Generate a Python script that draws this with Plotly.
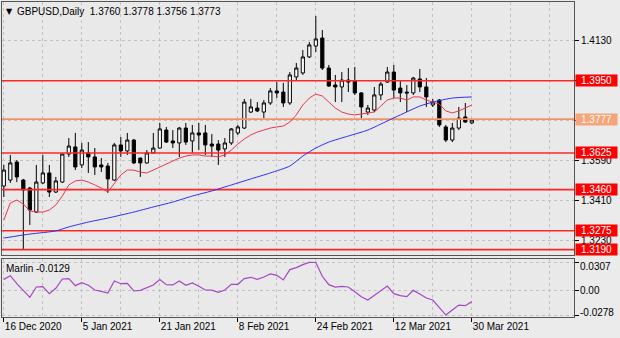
import plotly.graph_objects as go

# ---- GBPUSD daily candles (bar index 0 = 16 Dec 2020) ----
open_ = [1.3476, 1.3503, 1.3584, 1.3503, 1.3467, 1.3359, 1.3490, 1.3535, 1.3449, 1.3494,
         1.3620, 1.3652, 1.3571, 1.3625, 1.3607, 1.3571, 1.3566, 1.3503, 1.3661, 1.3634,
         1.3683, 1.3602, 1.3580, 1.3625, 1.3647, 1.3728, 1.3679, 1.3670, 1.3737, 1.3679,
         1.3715, 1.3715, 1.3665, 1.3665, 1.3643, 1.3670, 1.3715, 1.3737, 1.3809, 1.3827,
         1.3809, 1.3850, 1.3904, 1.3899, 1.3850, 1.3967, 1.3985, 1.4057, 1.4106, 1.4142,
         1.4007, 1.3931, 1.3922, 1.3953, 1.3949, 1.3895, 1.3809, 1.3818, 1.3886, 1.3944,
         1.3989, 1.3917, 1.3899, 1.3895, 1.3958, 1.3922, 1.3841, 1.3863, 1.3742, 1.3683,
         1.3737, 1.3787, 1.3760]
high = [1.3571, 1.3616, 1.3593, 1.3508, 1.3472, 1.3571, 1.3616, 1.3571, 1.3517, 1.3625,
        1.3692, 1.3715, 1.3670, 1.3674, 1.3647, 1.3602, 1.3580, 1.3670, 1.3697, 1.3715,
        1.3688, 1.3604, 1.3638, 1.3715, 1.3760, 1.3742, 1.3728, 1.3742, 1.3760, 1.3751,
        1.3760, 1.3751, 1.3710, 1.3683, 1.3692, 1.3737, 1.3751, 1.3868, 1.3868, 1.3854,
        1.3863, 1.3917, 1.3944, 1.3940, 1.3989, 1.4030, 1.4088, 1.4124, 1.4241, 1.4178,
        1.4021, 1.3976, 1.3989, 1.4007, 1.4012, 1.3899, 1.3841, 1.3922, 1.3944, 1.4012,
        1.4021, 1.3953, 1.3931, 1.3967, 1.4003, 1.3962, 1.3868, 1.3868, 1.3751, 1.3760,
        1.3832, 1.3850, 1.3778]
low = [1.3427, 1.3490, 1.3494, 1.3188, 1.3301, 1.3355, 1.3485, 1.3427, 1.3445, 1.3490,
       1.3607, 1.3548, 1.3557, 1.3535, 1.3526, 1.3539, 1.3445, 1.3499, 1.3607, 1.3616,
       1.3575, 1.3517, 1.3577, 1.3623, 1.3645, 1.3670, 1.3647, 1.3607, 1.3661, 1.3625,
       1.3638, 1.3616, 1.3607, 1.3571, 1.3607, 1.3661, 1.3706, 1.3733, 1.3805, 1.3809,
       1.3782, 1.3841, 1.3872, 1.3832, 1.3841, 1.3953, 1.3976, 1.4052, 1.4079, 1.3998,
       1.3922, 1.3854, 1.3854, 1.3899, 1.3886, 1.3782, 1.3796, 1.3809, 1.3863, 1.3940,
       1.3872, 1.3854, 1.3809, 1.3886, 1.3899, 1.3832, 1.3832, 1.3742, 1.3674, 1.3674,
       1.3728, 1.3760, 1.3756]
close = [1.3548, 1.3580, 1.3517, 1.3458, 1.3368, 1.3494, 1.3535, 1.3449, 1.3499, 1.3620,
         1.3656, 1.3562, 1.3638, 1.3607, 1.3562, 1.3562, 1.3508, 1.3661, 1.3634, 1.3683,
         1.3580, 1.3580, 1.3625, 1.3647, 1.3733, 1.3674, 1.3670, 1.3737, 1.3674, 1.3715,
         1.3706, 1.3661, 1.3656, 1.3638, 1.3670, 1.3733, 1.3742, 1.3854, 1.3832, 1.3814,
         1.3850, 1.3904, 1.3895, 1.3850, 1.3976, 1.4007, 1.4057, 1.4111, 1.4138, 1.4007,
         1.3926, 1.3922, 1.3953, 1.3944, 1.3895, 1.3832, 1.3827, 1.3886, 1.3935, 1.3989,
         1.3908, 1.3895, 1.3895, 1.3962, 1.3922, 1.3877, 1.3854, 1.3751, 1.3683, 1.3737,
         1.3782, 1.3764, 1.3773]

# fast moving average (red), one value per bar
ma_fast = [1.3323, 1.3400, 1.3413, 1.3395, 1.3364, 1.3359, 1.3359, 1.3368, 1.3391, 1.3431,
           1.3481, 1.3499, 1.3503, 1.3494, 1.3481, 1.3467, 1.3449, 1.3485, 1.3526, 1.3548,
           1.3548, 1.3539, 1.3535, 1.3548, 1.3562, 1.3575, 1.3589, 1.3602, 1.3611, 1.3616,
           1.3616, 1.3611, 1.3611, 1.3607, 1.3616, 1.3638, 1.3665, 1.3688, 1.3706, 1.3719,
           1.3728, 1.3737, 1.3742, 1.3746, 1.3764, 1.3796, 1.3841, 1.3872, 1.3890, 1.3881,
           1.3854, 1.3827, 1.3809, 1.3800, 1.3796, 1.3800, 1.3805, 1.3809, 1.3836, 1.3863,
           1.3872, 1.3872, 1.3863, 1.3877, 1.3877, 1.3863, 1.3854, 1.3845, 1.3814, 1.3805,
           1.3814, 1.3827, 1.3841]

# slow moving average (blue), sampled bars
ma_slow_bars = [0, 4, 8, 10, 13, 16, 20, 23, 26, 29, 32, 35, 38, 41, 44, 46, 48, 50,
                53, 56, 59, 61, 64, 66, 69, 72]
ma_slow = [1.3242, 1.3260, 1.3274, 1.3292, 1.3314, 1.3332, 1.3359, 1.3382, 1.3404, 1.3431,
           1.3454, 1.3481, 1.3508, 1.3535, 1.3566, 1.3611, 1.3647, 1.3674, 1.3701, 1.3728,
           1.3769, 1.3796, 1.3836, 1.3854, 1.3872, 1.3877]

# Marlin oscillator, one value per bar
marlin = [0.0118, 0.0159, 0.0070, -0.0011, -0.0081, 0.0033, 0.0037, -0.0041, 0.0019, 0.0122,
          0.0126, 0.0048, 0.0081, 0.0052, 0.0000, -0.0015, -0.0033, 0.0100, 0.0070, 0.0074,
          -0.0011, -0.0004, 0.0030, 0.0056, 0.0115, 0.0059, 0.0056, 0.0100, 0.0052, 0.0078,
          0.0041, 0.0000, -0.0002, -0.0026, 0.0000, 0.0063, 0.0063, 0.0126, 0.0141, 0.0118,
          0.0144, 0.0178, 0.0163, 0.0111, 0.0226, 0.0248, 0.0281, 0.0307, 0.0305, 0.0152,
          0.0059, 0.0033, 0.0041, 0.0033, -0.0019, -0.0074, -0.0111, -0.0059, -0.0015, 0.0044,
          -0.0041, -0.0063, -0.0074, -0.0004, -0.0044, -0.0089, -0.0111, -0.0196, -0.0278, -0.0222,
          -0.0167, -0.0174, -0.0129]

# horizontal levels
levels = [1.3950, 1.3777, 1.3625, 1.3460, 1.3275, 1.3190]
level_colors = ["#FF2626", "#F59066", "#FF2626", "#FF2626", "#FF2626", "#FF2626"]
level_box_colors = ["#FF0000", "#F7A478", "#FF0000", "#FF0000", "#FF0000", "#FF0000"]

price_ticks = [1.4130, 1.3950, 1.3770, 1.3590, 1.3410, 1.3230]
marlin_ticks = [0.0307, 0.0, -0.0278]
marlin_tick_text = ["0.0307", "0.00", "-0.0278"]

date_bars = [0, 12, 24, 36, 48, 60, 72]
date_labels = ["16 Dec 2020", "5 Jan 2021", "21 Jan 2021", "8 Feb 2021",
               "24 Feb 2021", "12 Mar 2021", "30 Mar 2021"]

title_text = "GBPUSD,Daily\u00a0\u00a01.3760 1.3778 1.3756 1.3773"
marlin_title = "Marlin -0.0129"

W, H = 620, 338
FONT = "Liberation Sans, Arial, sans-serif"
BORDER = "#555555"
GRID = "#C2C2C2"

x_range = [-0.28, 87.72]
x_dom = [2 / W, 574 / W]

bars = list(range(len(open_)))

fig = go.Figure()

# level lines span the whole visible bar range, drawn under the candles
for lv, col in zip(levels, level_colors):
    fig.add_trace(go.Scatter(x=x_range, y=[lv, lv], mode="lines",
                             line=dict(color=col, width=1.6), hoverinfo="skip",
                             showlegend=False, xaxis="x", yaxis="y", cliponaxis=True))

fig.add_trace(go.Candlestick(
    x=bars, open=open_, high=high, low=low, close=close,
    increasing=dict(line=dict(color="black", width=1), fillcolor="white"),
    decreasing=dict(line=dict(color="black", width=1), fillcolor="black"),
    whiskerwidth=0, hoverinfo="skip", showlegend=False, xaxis="x", yaxis="y"))
fig.add_trace(go.Scatter(x=bars, y=ma_fast, mode="lines", line=dict(color="#E8364F", width=1),
                         hoverinfo="skip", showlegend=False, xaxis="x", yaxis="y"))
fig.add_trace(go.Scatter(x=ma_slow_bars, y=ma_slow, mode="lines",
                         line=dict(color="#2F2FF0", width=1, shape="spline", smoothing=0.6),
                         hoverinfo="skip", showlegend=False, xaxis="x", yaxis="y"))
fig.add_trace(go.Scatter(x=bars, y=marlin, mode="lines", line=dict(color="#A448C4", width=1.2),
                         hoverinfo="skip", showlegend=False, xaxis="x2", yaxis="y2"))

annotations = []
for lv, col in zip(levels, level_box_colors):
    annotations.append(dict(
        xref="paper", x=575 / W, xanchor="left", yref="y", y=lv, yanchor="middle",
        text=f"{lv:.4f}", showarrow=False, bgcolor=col, width=41, height=11, borderpad=0,
        font=dict(family=FONT, size=10, color="white")))

for val, txt, shift in zip(marlin_ticks, marlin_tick_text, [-4, 0, 3]):
    annotations.append(dict(
        xref="paper", x=579 / W, xanchor="left", yref="y2", y=val, yanchor="middle",
        yshift=shift, text=txt, showarrow=False, borderpad=0,
        font=dict(family=FONT, size=10, color="black")))

annotations.append(dict(xref="paper", x=5 / W, xanchor="left", yref="paper", y=1 - 11 / H,
                        yanchor="middle", text="\u25bc", showarrow=False, borderpad=0,
                        font=dict(family="DejaVu Sans", size=8, color="black")))
annotations.append(dict(xref="paper", x=16 / W, xanchor="left", yref="paper", y=1 - 11 / H,
                        yanchor="middle", text=title_text, showarrow=False, borderpad=0,
                        font=dict(family=FONT, size=10, color="black")))
annotations.append(dict(xref="paper", x=5 / W, xanchor="left", yref="paper", y=1 - 268 / H,
                        yanchor="middle", text=marlin_title, showarrow=False, borderpad=0,
                        font=dict(family=FONT, size=10, color="black")))

fig.update_layout(
    width=W, height=H, margin=dict(l=0, r=0, t=0, b=0),
    paper_bgcolor="#EBEBEB", plot_bgcolor="#E9E9E9",
    showlegend=False, hovermode=False, dragmode=False,
    font=dict(family=FONT, size=10, color="black"),
    annotations=annotations,
    xaxis=dict(domain=x_dom, range=x_range, anchor="y", rangeslider=dict(visible=False),
               showticklabels=False, ticks="", tickmode="array", tickvals=date_bars,
               showgrid=True, gridcolor=GRID, griddash="dot", gridwidth=1,
               minor=dict(dtick=6, tick0=0, showgrid=True, gridcolor=GRID, griddash="dot"),
               showline=True, mirror=True, linecolor=BORDER, linewidth=1, zeroline=False),
    yaxis=dict(domain=[1 - 255 / H, 1 - 1.7 / H], range=[1.31657, 1.43056], side="right",
               anchor="x", tickmode="array", tickvals=price_ticks,
               ticktext=[f"{v:.4f}" for v in price_ticks], ticks="outside", ticklen=4,
               tickcolor="black", showgrid=True, gridcolor=GRID, griddash="dot",
               showline=True, mirror=True, linecolor=BORDER, linewidth=1, zeroline=False,
               tickfont=dict(family=FONT, size=10, color="black")),
    xaxis2=dict(domain=x_dom, range=x_range, anchor="y2", matches="x",
                tickmode="array", tickvals=date_bars, ticktext=date_labels,
                ticks="outside", ticklen=4, tickcolor="black", ticklabelposition="outside right",
                showgrid=True, gridcolor=GRID, griddash="dot",
                minor=dict(dtick=6, tick0=0, showgrid=True, gridcolor=GRID, griddash="dot"),
                showline=True, mirror=True, linecolor=BORDER, linewidth=1, zeroline=False,
                tickfont=dict(family=FONT, size=10, color="black")),
    yaxis2=dict(domain=[1 - 317.3 / H, 1 - 259 / H], range=[-0.0303, 0.0344], side="right",
                anchor="x2", tickmode="array", tickvals=marlin_ticks, showticklabels=False,
                ticks="outside", ticklen=4, tickcolor="black",
                showgrid=True, gridcolor=GRID, griddash="dot",
                showline=True, mirror=True, linecolor=BORDER, linewidth=1, zeroline=False),
)

fig.write_html("out.html", config={"displayModeBar": False, "staticPlot": True})
